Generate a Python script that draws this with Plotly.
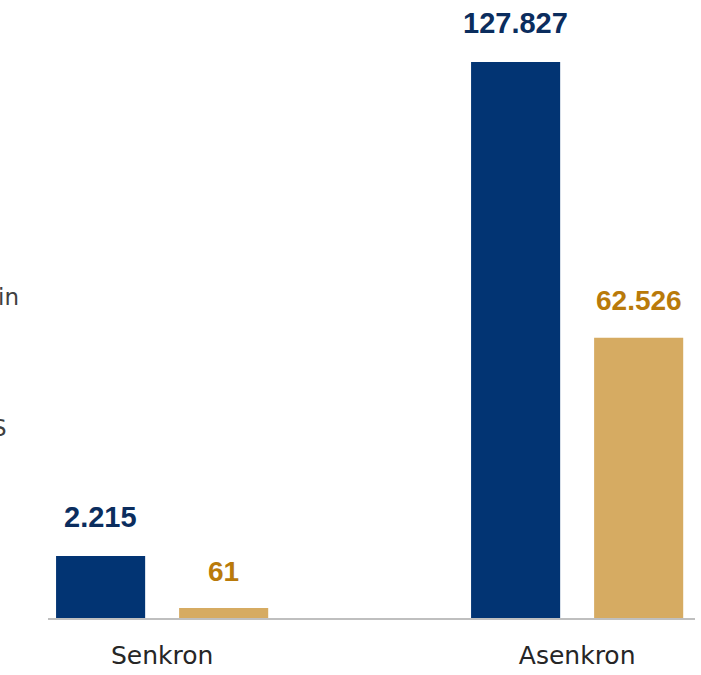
import plotly.graph_objects as go

categories = ["Senkron", "Asenkron"]
series_names = ["Seri 1", "Seri 2"]
blue_values = [14250, 127827]
gold_values = [2300, 64400]
blue_labels = ["2.215", "127.827"]
gold_labels = ["61", "62.526"]

BLUE = "#023473"
BLUE_TXT = "#0B2D5E"
GOLD = "#D6AB62"
GOLD_TXT = "#B97A0A"
NUM_FONT = "Century Gothic, Liberation Sans, Arial, sans-serif"
TXT_FONT = "DejaVu Sans, sans-serif"

fig = go.Figure()
fig.add_trace(go.Bar(name=series_names[0], x=categories, y=blue_values,
                     marker=dict(color=BLUE, line=dict(width=0)), hoverinfo="skip"))
fig.add_trace(go.Bar(name=series_names[1], x=categories, y=gold_values,
                     marker=dict(color=GOLD, line=dict(width=0)), hoverinfo="skip"))

annotations = []
for cat, v, lab in zip(categories, blue_values, blue_labels):
    annotations.append(dict(x=cat, y=v, text=f"<b>{lab}</b>", showarrow=False,
                            xshift=-61.5, yshift=39, yanchor="middle",
                            font=dict(family=NUM_FONT, size=29, color=BLUE_TXT)))
for cat, v, lab in zip(categories, gold_values, gold_labels):
    annotations.append(dict(x=cat, y=v, text=f"<b>{lab}</b>", showarrow=False,
                            xshift=61.5, yshift=37, yanchor="middle",
                            font=dict(family=NUM_FONT, size=28, color=GOLD_TXT)))
# fragments of text at the left edge
annotations.append(dict(xref="paper", yref="paper", x=(21 - 48) / 647, y=(618 - 297) / 609,
                        text="in", showarrow=False, xanchor="right", yanchor="middle",
                        font=dict(family=TXT_FONT, size=23, color="#404040")))
annotations.append(dict(xref="paper", yref="paper", x=(9 - 48) / 647, y=(618 - 428) / 609,
                        text="S", showarrow=False, xanchor="right", yanchor="middle",
                        font=dict(family=TXT_FONT, size=23, color="#404040")))

fig.update_layout(
    width=701, height=675,
    margin=dict(l=48, r=6, t=9, b=57),
    paper_bgcolor="white", plot_bgcolor="white",
    barmode="group", bargap=0.407, bargroupgap=0.276,
    showlegend=False,
    annotations=annotations,
    font=dict(family=TXT_FONT, color="#262626"),
)
fig.update_xaxes(range=[-0.275, 1.284], showline=True, linecolor="#BFBFBF", linewidth=2,
                 ticks="outside", ticklen=14, tickcolor="rgba(0,0,0,0)",
                 tickfont=dict(family=TXT_FONT, size=25, color="#262626"),
                 showgrid=False, zeroline=False, fixedrange=True)
fig.update_yaxes(range=[0, 140000], visible=False, showgrid=False, zeroline=False,
                 fixedrange=True)

fig.write_html("out.html", config={"displayModeBar": False},
               post_script="document.body.style.margin='0';")
